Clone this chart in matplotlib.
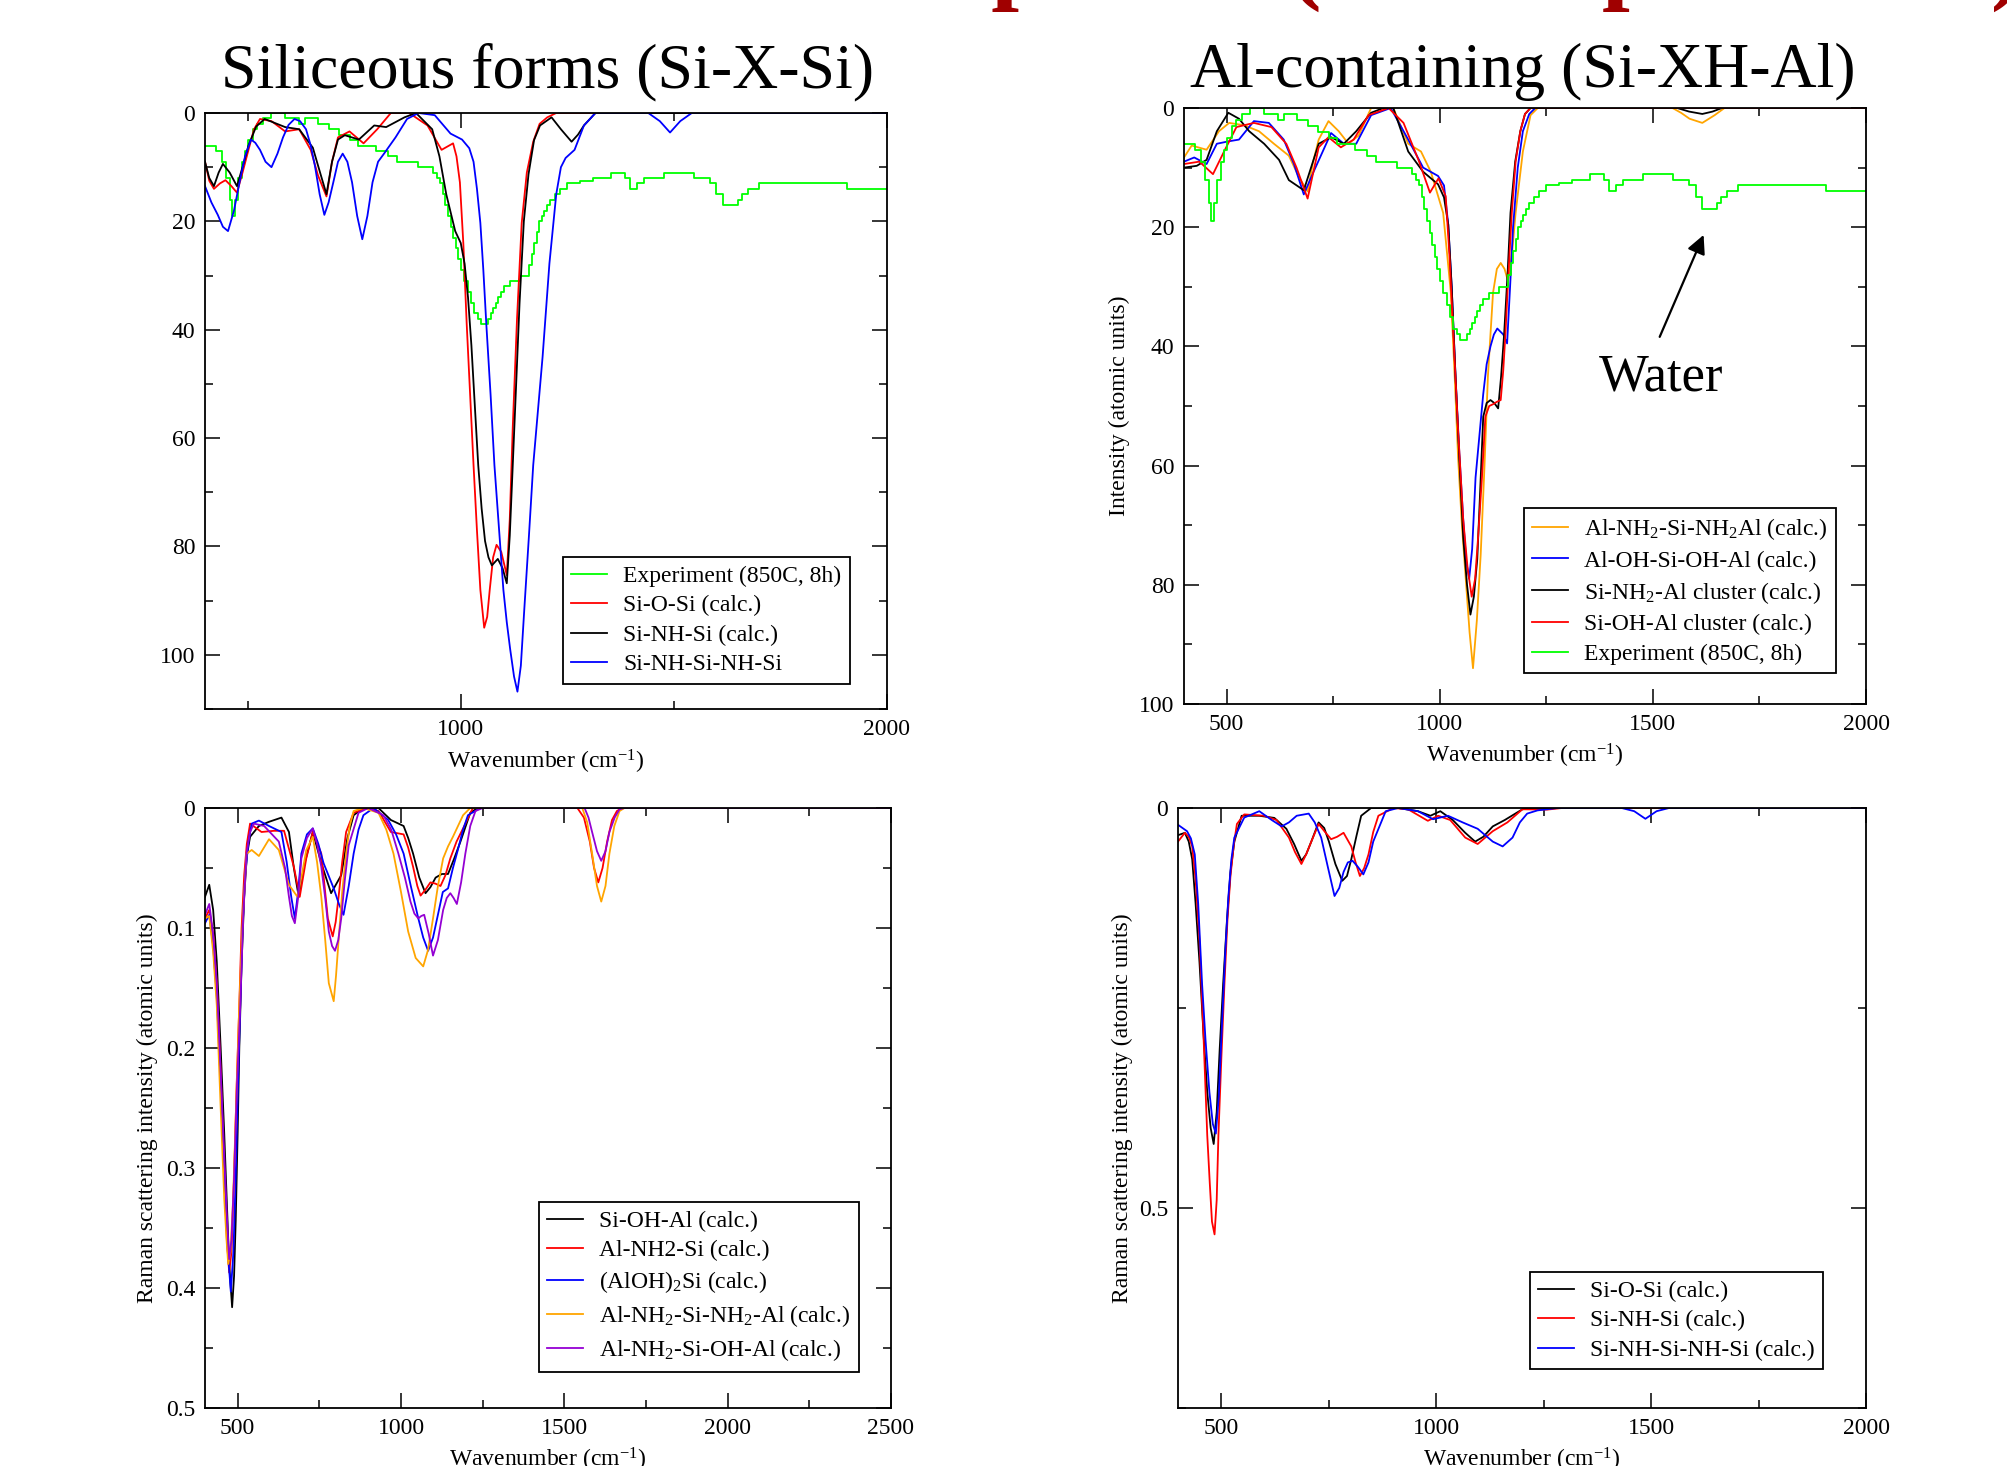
import matplotlib
matplotlib.use('Agg')
import matplotlib.pyplot as plt
from matplotlib.ticker import MultipleLocator, FormatStrFormatter

plt.rcParams['font.family'] = ['Liberation Serif', 'DejaVu Serif']
plt.rcParams['mathtext.fontset'] = 'custom'
plt.rcParams['mathtext.rm'] = 'Liberation Serif'
plt.rcParams['mathtext.it'] = 'Liberation Serif:italic'
plt.rcParams['mathtext.bf'] = 'Liberation Serif:bold'

# ---------------- Experimental spectrum (850C, 8h), step data ----------------
exp_wn = [400, 425, 440, 450, 458, 463, 470, 478, 486, 494, 502, 512, 522, 535, 555,
          588, 620, 635, 665, 690, 715, 740, 760, 800, 830, 850, 900, 935, 945, 952,
          958, 964, 970, 976, 982, 988, 994, 1000, 1008, 1016, 1024, 1032, 1040, 1048,
          1064, 1070, 1076, 1082, 1088, 1094, 1102, 1115, 1138, 1159, 1166, 1172, 1178,
          1184, 1190, 1196, 1202, 1210, 1220, 1232, 1250, 1280, 1310, 1353, 1386, 1397,
          1413, 1429, 1477, 1547, 1585, 1600, 1615, 1650, 1660, 1675, 1700, 1905, 2000]
exp_val = [6, 7, 9, 12, 16, 19, 16, 12, 9, 7, 5, 3, 2, 1, 0,
           1, 2, 1, 2, 3, 4, 5, 6, 7, 8, 9, 10, 11, 12, 13,
           15, 17, 19, 21, 23, 25, 27, 29, 31, 33, 35, 37, 38, 39,
           38, 37, 36, 35, 34, 33, 32, 31, 30, 28, 26, 24, 22,
           20, 19, 18, 17, 16, 15, 14, 13, 12.5, 12, 11, 12, 14,
           13, 12, 11, 12, 13, 15, 17, 16, 15, 14, 13, 14, 14]

# ---------------- Top-left: siliceous forms (IR) ----------------
tl_sios_wn = [400, 410, 421, 435, 448, 462, 475, 488, 502, 515, 529, 556, 588, 621, 648, 665,
              685, 698, 712, 739, 772, 804, 836, 879, 922, 955, 982, 990, 998, 1006, 1014,
              1022, 1030, 1038, 1046, 1055, 1062, 1068, 1076, 1084, 1095, 1108, 1115,
              1122, 1132, 1143, 1155, 1170, 1185, 1203, 1224, 2000]
tl_sios_val = [9, 12.5, 14, 13, 12.4, 13.5, 14.7, 11, 6.8, 3, 1.1, 1.5, 3.4, 3, 6.8, 11.5,
               15.4, 9, 4.5, 3.4, 5.6, 3, 0, 0, 2.3, 6.8, 5.6, 8, 12.8, 24, 39,
               52, 65, 77, 88, 95, 93, 88, 82, 79.7, 81, 85.3, 75,
               58, 38, 20.3, 11, 5.3, 2, 0.8, 0, 0]

tl_sinh_wn = [400, 410, 421, 432, 442, 458, 475, 488, 502, 520, 540, 588, 621, 653, 670,
              685, 698, 712, 728, 761, 797, 825, 868, 895, 933, 950, 966, 987, 1000, 1009,
              1017, 1025, 1033, 1041, 1049, 1057, 1065, 1073, 1087, 1098, 1108, 1115, 1122,
              1130, 1138, 1148, 1159, 1172, 1186, 1213, 1235, 1260, 1275, 1289, 1316, 2000]
tl_sinh_val = [9, 12, 13.5, 11, 9.4, 11, 13.5, 10, 6, 2.5, 1.1, 2.6, 3, 6.4, 11,
               15, 9, 4.9, 4.1, 4.9, 2.3, 2.6, 0.8, 0, 3, 8, 15, 21.8, 24, 27.8,
               34, 42.9, 54, 65, 73, 79, 82, 83.5, 82.3, 84, 86.8, 78, 65,
               50, 35, 20, 11.3, 5, 2.3, 0.8, 3, 5.3, 4, 2.3, 0, 0]

tl_sinhsi_wn = [400, 415, 430, 442, 454, 468, 481, 494, 508, 518, 529, 542, 556, 570, 583,
                596, 610, 623, 637, 648, 658, 669, 680, 690, 701, 712, 723, 734, 745, 757,
                769, 781, 793, 806, 820, 847, 874, 901, 939, 976, 1003, 1020, 1030, 1038,
                1046, 1053, 1060, 1070, 1079, 1090, 1100, 1108, 1116, 1125, 1133, 1141,
                1149, 1160, 1170, 1181, 1192, 1208, 1224, 1235, 1246, 1267, 1289, 1316,
                1440, 1467, 1491, 1515, 1542, 2000]
tl_sinhsi_val = [13.5, 16.5, 18.8, 21, 21.8, 18, 12.8, 8, 4.9, 5.5, 6.8, 9, 10, 7.5, 4.5,
                 2.2, 1.1, 1.5, 3, 6, 9.8, 15, 18.8, 16.5, 12.8, 9, 7.5, 9, 12.8, 19,
                 23.3, 19, 12.8, 9, 7.5, 4.5, 1.1, 0, 0.4, 3.8, 4.9, 6.5, 9, 14,
                 20.3, 29, 39, 52, 65, 77, 88, 94, 99, 104, 106.8, 102,
                 91.7, 78, 65, 55, 45, 27.8, 15, 10, 8.3, 6.8, 2.3, 0,
                 0, 1.5, 3.6, 1.5, 0, 0]

# ---------------- Top-right: Al-containing (IR) ----------------
tr_nh2nh2_wn = [400, 418, 453, 482, 506, 541, 576, 611, 646, 669, 690, 703, 716, 739, 763,
                786, 810, 839, 891, 926, 956, 979, 1008, 1026, 1035, 1043, 1052, 1061, 1070,
                1078, 1087, 1096, 1105, 1113, 1125, 1134, 1143, 1152, 1160, 1170, 1178, 1195,
                1213, 1230, 1546, 1566, 1586, 1616, 1645, 1668, 2000]
tr_nh2nh2_val = [8.3, 6.3, 7, 3.9, 2.5, 2.9, 3.9, 6, 8, 11.5, 14, 9, 5.3, 2.2, 3.9,
                 6, 4.6, 0, 0, 6, 7.3, 10.7, 17.6, 31, 45, 58.6, 70, 79, 88,
                 94, 86, 75, 60, 45, 31, 27, 26, 27, 29, 24, 17.6, 7.3,
                 1.2, 0, 0, 0.8, 1.8, 2.5, 1.2, 0, 0]

tr_ohoh_wn = [400, 424, 453, 477, 504, 529, 564, 599, 634, 658, 681, 704, 745, 775, 804,
              839, 885, 926, 961, 996, 1010, 1020, 1028, 1037, 1046, 1055, 1062, 1069, 1076,
              1084, 1093, 1102, 1110, 1119, 1127, 1135, 1142, 1149, 1158, 1165, 1172, 1183,
              1195, 1210, 1224, 2000]
tr_ohoh_val = [9, 8.3, 9.4, 6, 5.6, 5.3, 2.2, 2.5, 5.3, 9.4, 14.5, 10.7, 4.2, 6, 6,
               1.2, 0, 5.3, 10, 11.4, 13, 19.6, 30, 45, 58, 69, 76, 79, 74,
               62, 55, 48, 43, 40, 38, 37, 37.5, 38, 39.5, 30, 20, 10,
               3.9, 1, 0, 0]

tr_nh2cl_wn = [400, 430, 453, 477, 504, 529, 553, 588, 623, 646, 681, 716, 745, 775, 804,
               839, 868, 891, 926, 961, 996, 1010, 1020, 1028, 1037, 1046, 1055, 1064, 1072,
               1080, 1088, 1095, 1102, 1110, 1119, 1128, 1137, 1144, 1151, 1159, 1166, 1177,
               1189, 1200, 1213, 1557, 1585, 1616, 1640, 1662, 2000]
tr_nh2cl_val = [10, 9.7, 8.7, 3.9, 0.8, 1.8, 3.9, 6, 8.7, 12.1, 13.8, 6, 4.9, 6, 3.9,
                0.8, 0, 0, 7.3, 10.7, 12.8, 15, 19.6, 30, 45, 59, 72, 80, 85,
                82, 75.7, 64, 51.8, 49.5, 49, 49.5, 50.4, 45, 38, 28, 17.6, 9,
                3.9, 1, 0, 0, 0.6, 1, 0.6, 0, 0]

tr_ohcl_wn = [400, 436, 468, 494, 523, 564, 605, 640, 664, 690, 716, 739, 768, 798, 833,
              880, 915, 950, 977, 997, 1014, 1023, 1032, 1043, 1055, 1065, 1075, 1083,
              1090, 1099, 1107, 1116, 1125, 1134, 1143, 1149, 1154, 1161, 1169, 1178, 1189,
              1200, 1213, 2000]
tr_ohcl_val = [9.4, 9, 11.1, 7.3, 3.2, 2.5, 3.2, 6, 10, 15.2, 6.6, 4.9, 6.6, 5.3, 1.2,
               0, 2.5, 8.7, 14.2, 11.8, 14.8, 25, 38, 54, 69, 77, 82, 79,
               72, 62, 51.8, 50, 49.7, 49.3, 49, 44, 38, 28, 17.6, 9, 3.9,
               1, 0, 0]

# ---------------- Bottom-left: Al-containing (Raman) ----------------
bl_sioh_wn = [400, 413, 425, 436, 448, 459, 467, 474, 483, 489, 494, 500, 505, 512, 520,
              528, 538, 565, 596, 634, 657, 672, 687, 705, 730, 756, 786, 817, 836, 855,
              885, 931, 969, 1008, 1022, 1037, 1056, 1075, 1090, 1106, 1125, 1144, 1163,
              1182, 1212, 1235, 2500]
bl_sioh_val = [0.074, 0.064, 0.085, 0.128, 0.2, 0.272, 0.33, 0.38, 0.416, 0.39, 0.344,
               0.27, 0.2, 0.13, 0.074, 0.04, 0.024, 0.015, 0.0115, 0.008, 0.02, 0.05,
               0.074, 0.046, 0.02, 0.046, 0.071, 0.056, 0.025, 0.006, 0, 0, 0.01, 0.015,
               0.025, 0.038, 0.058, 0.071, 0.066, 0.058, 0.055, 0.055, 0.042, 0.028,
               0.004, 0, 0]

bl_nh2_wn = [400, 413, 425, 436, 448, 459, 467, 474, 481, 489, 497, 505, 512, 520, 528,
             538, 573, 611, 642, 672, 690, 710, 730, 756, 766, 776, 791, 800, 809, 820,
             832, 855, 893, 931, 969, 1008, 1022, 1037, 1050, 1060, 1075, 1090, 1105, 1121,
             1136, 1151, 1170, 1190, 1220, 1540, 1560, 1578, 1591, 1604, 1617, 1631, 1646,
             1661, 1677, 2500]
bl_nh2_val = [0.092, 0.085, 0.105, 0.146, 0.22, 0.308, 0.36, 0.387, 0.37, 0.308, 0.23,
              0.164, 0.1, 0.056, 0.03, 0.013, 0.02, 0.019, 0.019, 0.049, 0.074, 0.042,
              0.02, 0.038, 0.065, 0.092, 0.107, 0.095, 0.074, 0.045, 0.02, 0.004, 0,
              0.0025, 0.02, 0.022, 0.033, 0.049, 0.065, 0.073, 0.068, 0.062, 0.063, 0.065,
              0.056, 0.042, 0.028, 0.017, 0, 0, 0.008, 0.028, 0.05, 0.062, 0.05, 0.028,
              0.01, 0.0025, 0, 0]

bl_aloh2_wn = [400, 413, 425, 436, 448, 459, 470, 479, 487, 494, 501, 508, 515, 523, 533,
               543, 565, 596, 634, 650, 664, 675, 685, 695, 712, 730, 747, 763, 794, 810,
               824, 840, 855, 870, 885, 916, 961, 985, 1008, 1030, 1053, 1068, 1083, 1098,
               1113, 1128, 1144, 1159, 1174, 1190, 1205, 1243, 2500]
bl_aloh2_val = [0.096, 0.089, 0.115, 0.157, 0.23, 0.308, 0.37, 0.403, 0.37, 0.308, 0.23,
                0.164, 0.1, 0.056, 0.028, 0.013, 0.0105, 0.015, 0.02, 0.045, 0.074, 0.092,
                0.07, 0.038, 0.022, 0.017, 0.03, 0.046, 0.067, 0.08, 0.089, 0.065, 0.038,
                0.018, 0.006, 0, 0.01, 0.022, 0.038, 0.065, 0.092, 0.108, 0.119, 0.108,
                0.089, 0.07, 0.067, 0.05, 0.035, 0.018, 0.006, 0, 0]

bl_nh2nh2_wn = [400, 413, 425, 436, 448, 459, 466, 471, 478, 486, 495, 505, 516, 527, 543,
                565, 596, 626, 657, 683, 697, 710, 730, 743, 756, 768, 779, 794, 801, 809,
                820, 832, 843, 855, 885, 931, 955, 977, 1000, 1022, 1045, 1068, 1083, 1098,
                1113, 1129, 1144, 1159, 1190, 1212, 1555, 1570, 1585, 1600, 1613, 1626,
                1638, 1653, 1669, 1684, 2500]
bl_nh2nh2_val = [0.092, 0.09, 0.12, 0.164, 0.25, 0.326, 0.36, 0.38, 0.37, 0.326, 0.25,
                 0.164, 0.09, 0.038, 0.035, 0.04, 0.026, 0.035, 0.064, 0.074, 0.055,
                 0.035, 0.024, 0.045, 0.074, 0.11, 0.146, 0.161, 0.14, 0.11, 0.07, 0.038,
                 0.015, 0.0025, 0, 0.004, 0.018, 0.038, 0.07, 0.103, 0.125, 0.132, 0.118,
                 0.092, 0.065, 0.042, 0.032, 0.024, 0.006, 0, 0, 0.012, 0.038, 0.065,
                 0.078, 0.065, 0.038, 0.015, 0.0025, 0, 0]

bl_nh2oh_wn = [400, 413, 425, 436, 448, 459, 467, 474, 481, 489, 498, 508, 517, 527, 538,
               550, 581, 626, 645, 657, 666, 675, 685, 695, 712, 730, 743, 756, 768, 779,
               789, 798, 808, 817, 828, 840, 870, 900, 946, 970, 992, 1012, 1029, 1041, 1053,
               1062, 1071, 1085, 1098, 1113, 1129, 1140, 1151, 1161, 1171, 1184, 1197, 1212,
               1228, 1250, 1562, 1574, 1585, 1600, 1613, 1626, 1638, 1654, 1669, 1684, 2500]
bl_nh2oh_val = [0.089, 0.08, 0.105, 0.146, 0.22, 0.29, 0.34, 0.376, 0.36, 0.308, 0.23,
                0.164, 0.09, 0.038, 0.02, 0.013, 0.015, 0.028, 0.05, 0.074, 0.09, 0.096,
                0.075, 0.042, 0.025, 0.017, 0.03, 0.049, 0.075, 0.103, 0.115, 0.119,
                0.11, 0.092, 0.06, 0.031, 0.004, 0, 0.006, 0.018, 0.038, 0.058, 0.078,
                0.088, 0.092, 0.09, 0.089, 0.105, 0.123, 0.11, 0.085, 0.075, 0.071, 0.075,
                0.08, 0.062, 0.038, 0.015, 0.0025, 0, 0, 0.008, 0.02, 0.036, 0.044, 0.036,
                0.02, 0.008, 0.001, 0, 0]

# ---------------- Bottom-right: siliceous forms (Raman) ----------------
br_sios_wn = [400, 416, 425, 433, 441, 450, 459, 468, 476, 483, 490, 497, 505, 514, 522,
              531, 548, 589, 624, 652, 670, 687, 698, 710, 727, 740, 751, 766, 782, 793,
              803, 815, 826, 849, 912, 958, 987, 1010, 1039, 1068, 1091, 1110, 1132, 1160,
              1201, 1224, 2000]
br_sios_val = [0.034, 0.031, 0.042, 0.064, 0.12, 0.193, 0.28, 0.355, 0.4, 0.42, 0.38,
               0.301, 0.22, 0.139, 0.08, 0.042, 0.0097, 0.0097, 0.0124, 0.026, 0.045,
               0.066, 0.058, 0.042, 0.018, 0.025, 0.042, 0.07, 0.091, 0.085, 0.064,
               0.035, 0.0097, 0, 0, 0.004, 0.0097, 0.004, 0.015, 0.031, 0.042, 0.036,
               0.023, 0.015, 0.0016, 0, 0]

br_sinh_wn = [400, 416, 425, 433, 441, 450, 459, 468, 474, 479, 485, 490, 494, 501, 508,
              515, 522, 530, 537, 554, 600, 629, 658, 672, 687, 698, 710, 727, 742, 756,
              770, 785, 803, 813, 823, 833, 843, 854, 866, 901, 935, 981, 1005, 1033, 1068,
              1097, 1132, 1166, 1201, 1259, 1293, 2000]
br_sinh_val = [0.042, 0.031, 0.036, 0.048, 0.09, 0.166, 0.28, 0.409, 0.47, 0.517, 0.533,
               0.49, 0.409, 0.31, 0.22, 0.14, 0.085, 0.045, 0.02, 0.008, 0.0097, 0.015,
               0.037, 0.055, 0.07, 0.058, 0.042, 0.02, 0.03, 0.039, 0.036, 0.031, 0.048,
               0.068, 0.085, 0.075, 0.058, 0.03, 0.0097, 0, 0.0016, 0.016, 0.0097, 0.015,
               0.037, 0.045, 0.029, 0.018, 0.0016, 0.002, 0, 0]

br_sinhsi_wn = [400, 421, 430, 439, 447, 456, 464, 473, 481, 488, 495, 502, 510, 517, 524,
                531, 554, 589, 618, 641, 658, 676, 704, 718, 733, 749, 764, 775, 785, 795,
                806, 819, 831, 843, 854, 883, 912, 958, 993, 1028, 1062, 1097, 1132, 1155,
                1178, 1195, 1212, 1236, 1282, 1432, 1461, 1487, 1513, 1542, 2000]
br_sinhsi_val = [0.021, 0.029, 0.038, 0.058, 0.12, 0.22, 0.29, 0.355, 0.395, 0.407, 0.36,
                 0.274, 0.18, 0.112, 0.065, 0.037, 0.012, 0.004, 0.015, 0.023, 0.018,
                 0.0097, 0.007, 0.018, 0.037, 0.075, 0.11, 0.1, 0.08, 0.068, 0.066, 0.074,
                 0.083, 0.068, 0.042, 0.004, 0, 0.004, 0.014, 0.0097, 0.018, 0.026, 0.042,
                 0.048, 0.037, 0.018, 0.007, 0.003, 0, 0, 0.004, 0.0135, 0.004, 0, 0]

# ---------------- Labels ----------------
title_left = 'Siliceous forms (Si-X-Si)'
title_right = 'Al-containing (Si-XH-Al)'
banner = 'Calculated spectra (and experiment)'
xlab = r'Wavenumber (cm$^{-1}$)'

BLACK, RED, GREEN, BLUE = '#000000', '#ff0000', '#00ff00', '#0000ff'
ORANGE, VIOLET = '#ffa500', '#9400d3'

W, H = 2008, 1466
fig = plt.figure(figsize=(W / 100, H / 100), dpi=100)


def add_ax(l, t, r, b):
    return fig.add_axes([l / W, 1 - b / H, (r - l) / W, (b - t) / H])


def style(ax, xmaj, xmin, ymaj, ymin, yfmt='%g'):
    ax.xaxis.set_major_locator(MultipleLocator(xmaj))
    ax.xaxis.set_minor_locator(MultipleLocator(xmin))
    ax.yaxis.set_major_locator(MultipleLocator(ymaj))
    ax.yaxis.set_minor_locator(MultipleLocator(ymin))
    ax.yaxis.set_major_formatter(FormatStrFormatter(yfmt))
    ax.tick_params(which='both', direction='in', top=True, right=True,
                   labelsize=17, width=1.1)
    ax.tick_params(which='major', length=11, pad=7)
    ax.tick_params(which='minor', length=6)
    for s in ax.spines.values():
        s.set_linewidth(1.3)


def legend(ax, handles, x, y):
    lg = ax.legend(handles=handles, loc='upper left', bbox_to_anchor=(x / W, 1 - y / H),
                   bbox_transform=fig.transFigure, fontsize=17, frameon=True,
                   fancybox=False, framealpha=1, edgecolor='black', handlelength=1.5,
                   handletextpad=0.7, labelspacing=0.34, borderpad=0.35, borderaxespad=0)
    lg.get_frame().set_linewidth(1.3)
    return lg


LW = 1.3

# ---- Top-left ----
ax1 = add_ax(205, 113, 887, 709)
h_exp = ax1.plot(exp_wn, exp_val, drawstyle='steps-post', color=GREEN, lw=LW,
                 label='Experiment (850C, 8h)')[0]
h1 = ax1.plot(tl_sios_wn, tl_sios_val, color=RED, lw=LW, label='Si-O-Si (calc.)')[0]
h2 = ax1.plot(tl_sinh_wn, tl_sinh_val, color=BLACK, lw=LW, label='Si-NH-Si (calc.)')[0]
h3 = ax1.plot(tl_sinhsi_wn, tl_sinhsi_val, color=BLUE, lw=LW, label='Si-NH-Si-NH-Si')[0]
ax1.set_xlim(400, 2000)
ax1.set_ylim(110, 0)
style(ax1, 1000, 500, 20, 10)
ax1.set_xlabel(xlab, fontsize=17)
ax1.xaxis.set_label_coords(0.5, -0.089)
ax1.xaxis.label.set_va('center')
legend(ax1, [h_exp, h1, h2, h3], 563, 557)

# ---- Top-right ----
ax2 = add_ax(1184, 108, 1866, 704)
g1 = ax2.plot(tr_nh2nh2_wn, tr_nh2nh2_val, color=ORANGE, lw=LW,
              label=r'Al-NH$_2$-Si-NH$_2$Al (calc.)')[0]
g2 = ax2.plot(tr_ohoh_wn, tr_ohoh_val, color=BLUE, lw=LW, label='Al-OH-Si-OH-Al (calc.)')[0]
g3 = ax2.plot(tr_nh2cl_wn, tr_nh2cl_val, color=BLACK, lw=LW,
              label=r'Si-NH$_2$-Al cluster (calc.)')[0]
g4 = ax2.plot(tr_ohcl_wn, tr_ohcl_val, color=RED, lw=LW, label='Si-OH-Al cluster (calc.)')[0]
g5 = ax2.plot(exp_wn, exp_val, drawstyle='steps-post', color=GREEN, lw=LW,
              label='Experiment (850C, 8h)')[0]
ax2.set_xlim(400, 2000)
ax2.set_ylim(100, 0)
style(ax2, 500, 250, 20, 10)
ax2.set_xlabel(xlab, fontsize=17)
ax2.xaxis.set_label_coords(0.5, -0.087)
ax2.xaxis.label.set_va('center')
ax2.set_ylabel('Intensity (atomic units)', fontsize=17)
ax2.yaxis.set_label_coords(-0.0953, 0.5)
ax2.yaxis.label.set_va('center')
legend(ax2, [g1, g2, g3, g4, g5], 1524, 508)
ax2.annotate('', xy=(1619, 21.3), xytext=(1516, 38.4),
             arrowprops=dict(arrowstyle='-|>', color='black', lw=1.6,
                             mutation_scale=28, shrinkA=0, shrinkB=0))
ax2.text(1519, 45.3, 'Water', fontsize=38, ha='center', va='center')

# ---- Bottom-left ----
ax3 = add_ax(205, 808, 891, 1408)
k1 = ax3.plot(bl_sioh_wn, bl_sioh_val, color=BLACK, lw=LW, label='Si-OH-Al (calc.)')[0]
k2 = ax3.plot(bl_nh2_wn, bl_nh2_val, color=RED, lw=LW, label='Al-NH2-Si (calc.)')[0]
k3 = ax3.plot(bl_aloh2_wn, bl_aloh2_val, color=BLUE, lw=LW, label=r'(AlOH)$_2$Si (calc.)')[0]
k4 = ax3.plot(bl_nh2nh2_wn, bl_nh2nh2_val, color=ORANGE, lw=LW,
              label=r'Al-NH$_2$-Si-NH$_2$-Al (calc.)')[0]
k5 = ax3.plot(bl_nh2oh_wn, bl_nh2oh_val, color=VIOLET, lw=LW,
              label=r'Al-NH$_2$-Si-OH-Al (calc.)')[0]
ax3.set_xlim(400, 2500)
ax3.set_ylim(0.5, 0)
style(ax3, 500, 250, 0.1, 0.05)
ax3.set_xlabel(xlab, fontsize=17)
ax3.xaxis.set_label_coords(0.5, -0.087)
ax3.xaxis.label.set_va('center')
ax3.set_ylabel('Raman scattering intensity (atomic units)', fontsize=17)
ax3.yaxis.set_label_coords(-0.0845, 0.5)
ax3.yaxis.label.set_va('center')
legend(ax3, [k1, k2, k3, k4, k5], 539, 1202)

# ---- Bottom-right ----
ax4 = add_ax(1178, 808, 1866, 1408)
m1 = ax4.plot(br_sios_wn, br_sios_val, color=BLACK, lw=LW, label='Si-O-Si (calc.)')[0]
m2 = ax4.plot(br_sinh_wn, br_sinh_val, color=RED, lw=LW, label='Si-NH-Si (calc.)')[0]
m3 = ax4.plot(br_sinhsi_wn, br_sinhsi_val, color=BLUE, lw=LW,
              label='Si-NH-Si-NH-Si (calc.)')[0]
ax4.set_xlim(400, 2000)
ax4.set_ylim(0.75, 0)
style(ax4, 500, 250, 0.5, 0.25)
ax4.set_xlabel(xlab, fontsize=17)
ax4.xaxis.set_label_coords(0.5, -0.087)
ax4.xaxis.label.set_va('center')
ax4.set_ylabel('Raman scattering intensity (atomic units)', fontsize=17)
ax4.yaxis.set_label_coords(-0.0814, 0.5)
ax4.yaxis.label.set_va('center')
legend(ax4, [m1, m2, m3], 1530, 1272)

# ---- Titles ----
fig.text(548 / W, 1 - 72 / H, title_left, fontsize=46, ha='center', va='center')
fig.text(1523 / W, 1 - 72 / H, title_right, fontsize=46, ha='center', va='center')
fig.text(466 / W, 1 + 9 / H, banner, fontsize=72, fontweight='bold', color='#a00000',
         ha='left', va='baseline')

fig.savefig('out.png', dpi=100)
